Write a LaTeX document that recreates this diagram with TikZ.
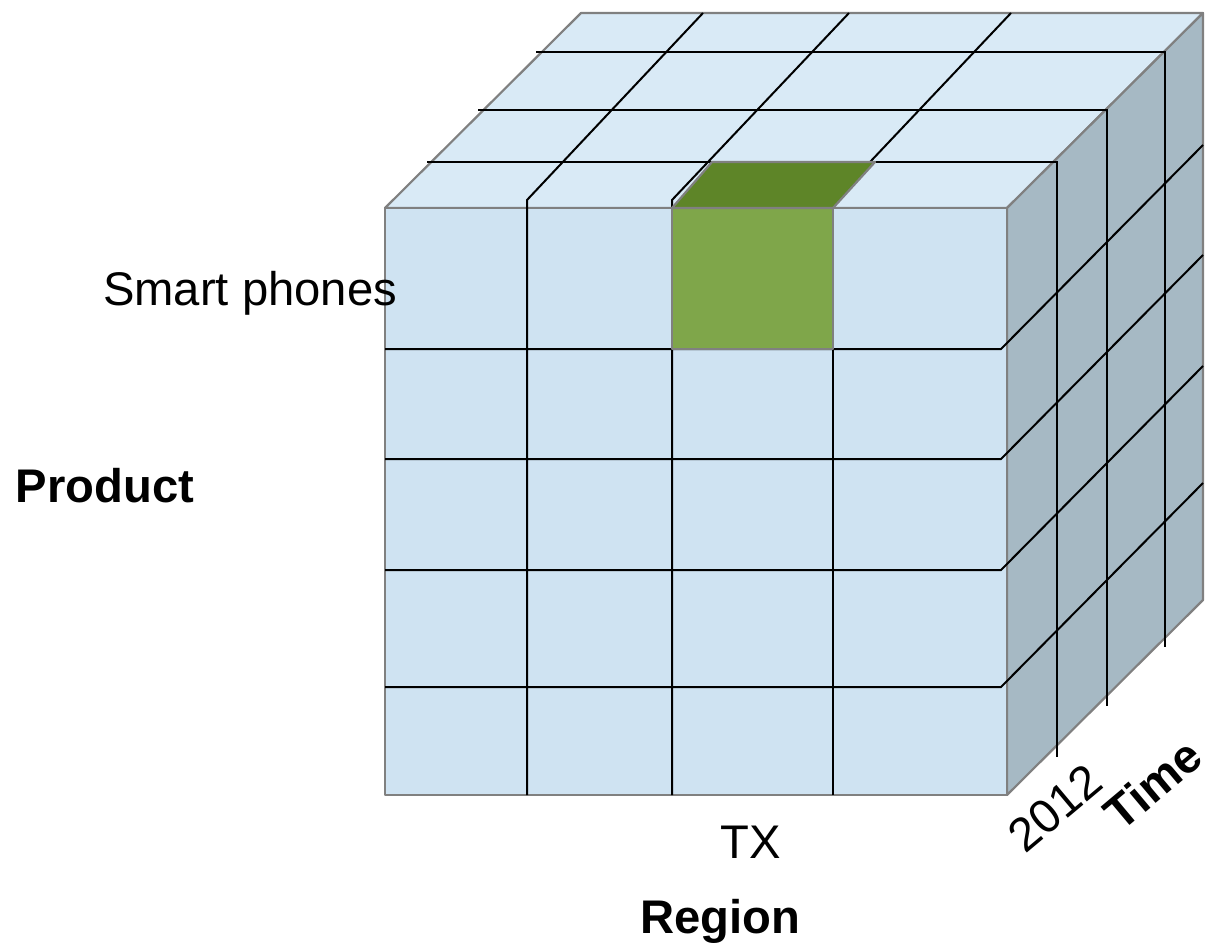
\documentclass[tikz,border=0pt]{standalone}
\usepackage{fontspec}
\setmainfont{Liberation Sans}
\usepackage{tikz}
\definecolor{FrontBlue}   {RGB}{207, 227, 242}
\definecolor{TopBlue}     {RGB}{217, 234, 246}
\definecolor{SideGray}    {RGB}{166, 185, 196}
\definecolor{CellGreen}   {RGB}{127, 166,  74}
\definecolor{CellGreenTop}{RGB}{ 94, 133,  40}
\definecolor{EdgeGray}    {RGB}{128, 128, 128}

\begin{document}
\begin{tikzpicture}[
  x=0.5pt, y=-0.5pt,
  face/.style={
    draw=EdgeGray, line width=1.1pt,
    line join=round},
  gridline/.style={
    black, line width=1pt},
  lbl/.style={
    font=\fontsize{23.6}{28}\selectfont,
    inner sep=0pt, anchor=base},
  axislbl/.style={lbl,
    font=\fontsize{23.6}{28}\selectfont\bfseries}
]
\useasboundingbox (0,0) rectangle (1210,943);

% cube faces
\draw[face, fill=TopBlue]
  (385,208) -- (581,13) -- (1203,13) -- (1007,208) -- cycle;
\draw[face, fill=SideGray]
  (1007,208) -- (1203,13) -- (1203,600) -- (1007,795) -- cycle;
\draw[face, fill=FrontBlue] (385,208) rectangle (1007,795);

% time slices (top and side)
\foreach \y/\xl/\xr/\yb in
  {52/536/1165/647,110/478/1107/706,162/427/1057/757}{
  \draw[gridline] (\xl,\y) -- (\xr,\y) -- (\xr,\yb);
}

% region columns
\draw[gridline] (527,795) -- (527,200) -- (703,13);
\draw[gridline] (672,795) -- (672,200) -- (849,13);
\draw[gridline] (833,795) -- (833,208);
\draw[gridline] (870,162) -- (1011,13);

% product rows
\foreach \y in {349,459,570,687}{
  \draw[gridline] (385,\y) -- (1001,\y) -- ++(202,-204);
}

% selected cell
\draw[face, fill=CellGreen] (672,208) rectangle (833,349);
\draw[face, fill=CellGreenTop]
  (672,208) -- (712,162) -- (875,162) -- (833,208) -- cycle;

% labels
\node[lbl] (phones) at (250,305) {Smart phones};
\node[axislbl] (product) at (105,502) {Product};
\node[lbl] (tx) at (751,858) {TX};
\node[axislbl] (region) at (720,933) {Region};
\node[lbl, anchor=center, rotate=40] (year) at (1055,808) {2012};
\node[axislbl, anchor=center, rotate=40] (time) at (1153,784) {Time};
\end{tikzpicture}
\end{document}
